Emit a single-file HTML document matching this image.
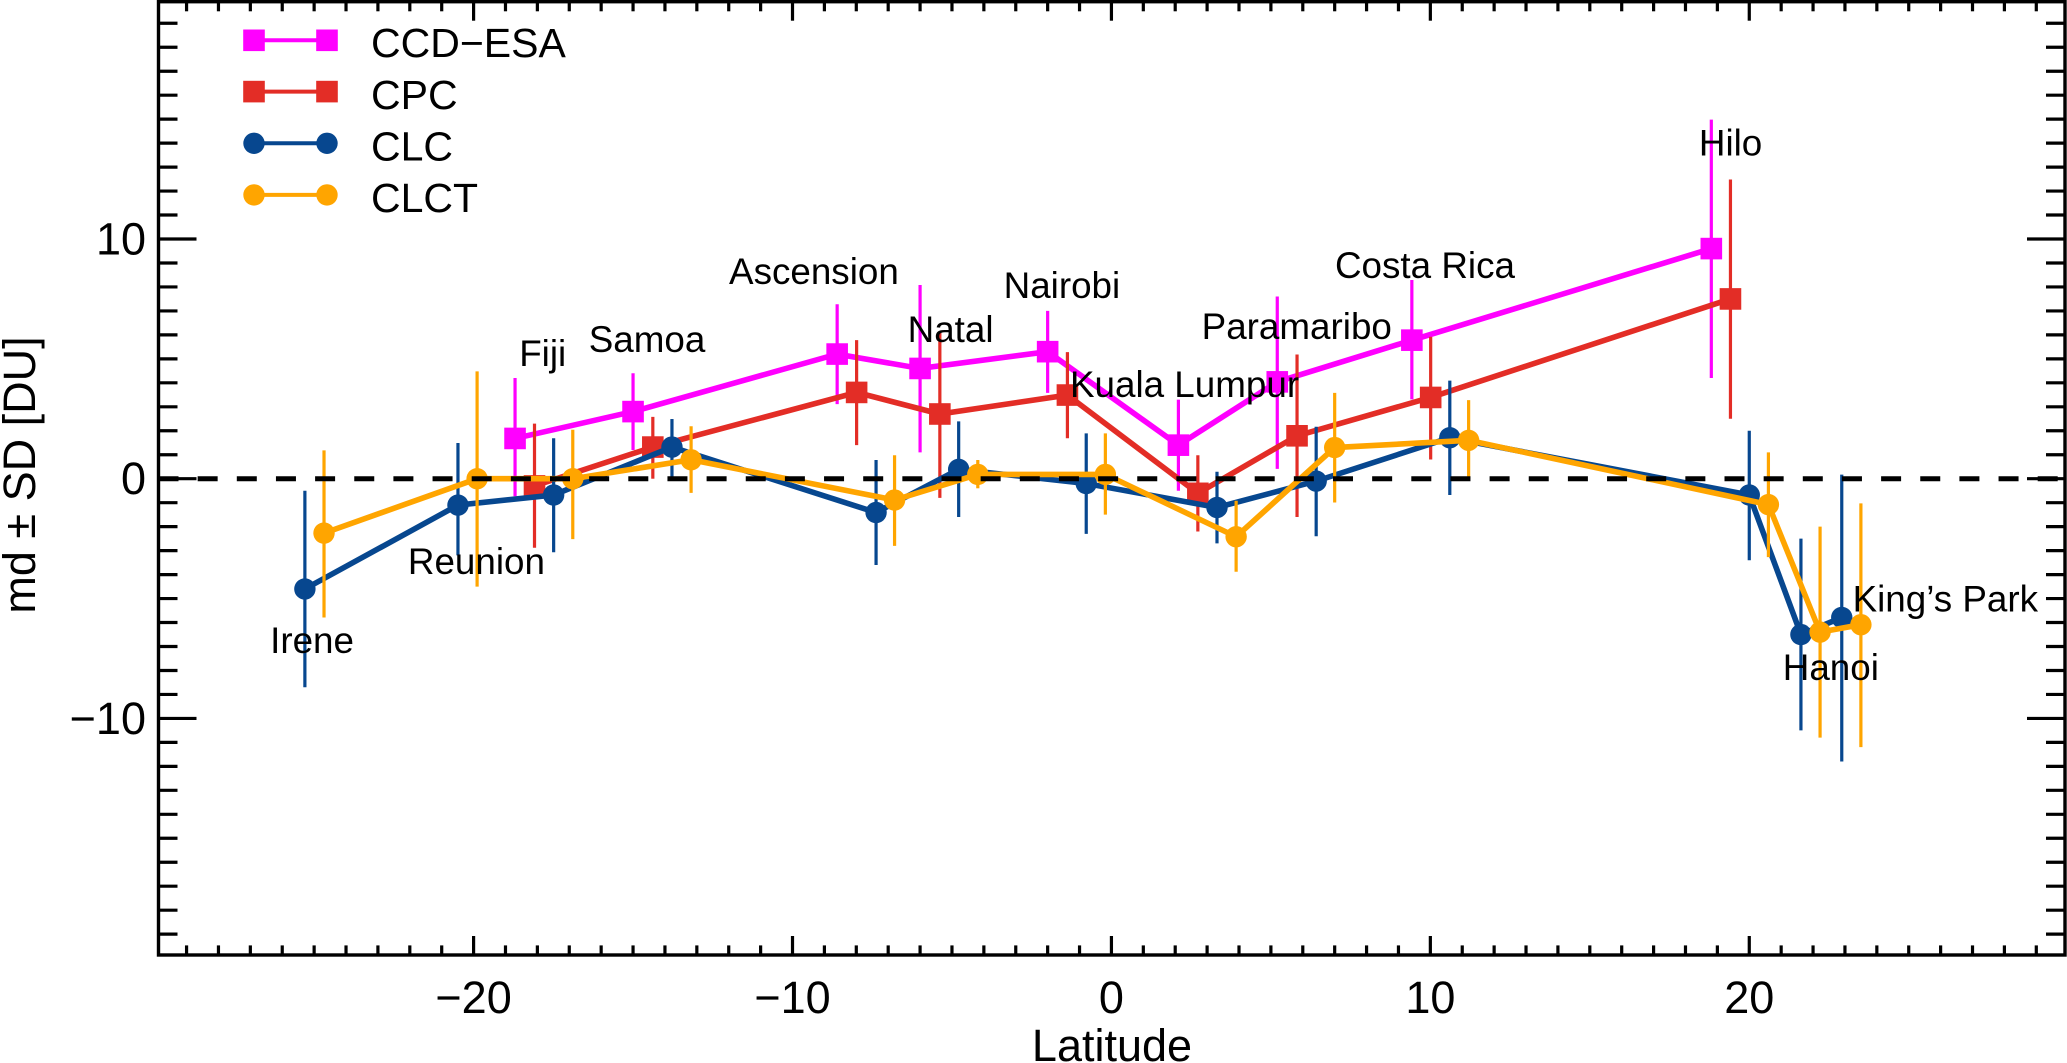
<!DOCTYPE html>
<html lang="en">
<head>
<meta charset="utf-8">
<title>md ± SD by latitude</title>
<style>
  html, body { margin: 0; padding: 0; background: #ffffff; }
  #chart { display: block; position: absolute; left: 0; top: 0; font-family: "Liberation Sans", Arial, sans-serif; }
</style>
</head>
<body>
<svg id="chart" width="2067" height="1063" viewBox="0 0 2067 1063" xmlns="http://www.w3.org/2000/svg">
  <rect x="0" y="0" width="2067" height="1063" fill="#ffffff"></rect>
  <g id="ticks"></g>
  <g id="tick-labels"></g>
  <g id="series"></g>
  <g id="zero"></g>
  <rect id="frame" fill="none" stroke="#000000" stroke-width="3.4"></rect>
  <g id="site-labels"></g>
  <text transform="translate(35 475) rotate(-90)" text-anchor="middle" font-size="45" fill="#000000">md ± SD [DU]</text>
  <text x="1112" y="1061" text-anchor="middle" font-size="45" fill="#000000">Latitude</text>

  <g>
    <g>
      <line x1="254" y1="40.3" x2="327" y2="40.3" stroke="#ff00ff" stroke-width="4"></line>
      <rect x="243.2" y="29.5" width="21.6" height="21.6" fill="#ff00ff"></rect>
      <rect x="316.2" y="29.5" width="21.6" height="21.6" fill="#ff00ff"></rect>
      <text x="371" y="56.8" font-size="41" fill="#000000">CCD−ESA</text>
    </g>
    <g>
      <line x1="254" y1="91.6" x2="327" y2="91.6" stroke="#e32d26" stroke-width="4"></line>
      <rect x="243.2" y="80.8" width="21.6" height="21.6" fill="#e32d26"></rect>
      <rect x="316.2" y="80.8" width="21.6" height="21.6" fill="#e32d26"></rect>
      <text x="371" y="108.8" font-size="41" fill="#000000">CPC</text>
    </g>
    <g>
      <line x1="254" y1="143.3" x2="327" y2="143.3" stroke="#07478f" stroke-width="4"></line>
      <circle cx="254" cy="143.3" r="10.7" fill="#07478f"></circle>
      <circle cx="327" cy="143.3" r="10.7" fill="#07478f"></circle>
      <text x="371" y="160.5" font-size="41" fill="#000000">CLC</text>
    </g>
    <g>
      <line x1="254" y1="194.9" x2="327" y2="194.9" stroke="#ffa500" stroke-width="4"></line>
      <circle cx="254" cy="194.9" r="10.7" fill="#ffa500"></circle>
      <circle cx="327" cy="194.9" r="10.7" fill="#ffa500"></circle>
      <text x="371" y="211.8" font-size="41" fill="#000000">CLCT</text>
    </g>
  </g>
</svg>

<script>
// ---- chart data ----
const ccdLat   = [-18.7, -15.0, -8.6, -6.0, -2.0, 2.1, 5.2, 9.42, 18.81];
const ccdMean  = [1.68, 2.8, 5.2, 4.6, 5.3, 1.4, 4.04, 5.78, 9.6];
const ccdUpper = [4.2, 4.4, 7.28, 8.08, 7.0, 3.3, 7.6, 8.29, 14.98];
const ccdLower = [-0.73, 1.2, 3.11, 1.1, 3.58, -0.5, 0.41, 3.31, 4.2];

const cpcLat   = [-18.09, -14.38, -7.99, -5.38, -1.38, 2.71, 5.82, 10.01, 19.41];
const cpcMean  = [-0.3, 1.32, 3.6, 2.7, 3.49, -0.61, 1.79, 3.39, 7.5];
const cpcUpper = [2.3, 2.58, 5.78, 6.13, 5.28, 0.98, 5.18, 5.92, 12.48];
const cpcLower = [-2.88, 0.0, 1.4, -0.8, 1.69, -2.2, -1.6, 0.8, 2.5];

const clcLat   = [-25.29, -20.49, -17.49, -13.78, -7.38, -4.79, -0.79, 3.31, 6.42, 10.61, 20.0, 21.62, 22.9];
const clcMean  = [-4.6, -1.1, -0.68, 1.32, -1.41, 0.39, -0.2, -1.2, -0.1, 1.71, -0.68, -6.5, -5.79];
const clcUpper = [-0.5, 1.49, 1.69, 2.49, 0.78, 2.39, 1.89, 0.29, 2.17, 4.09, 2.0, -2.5, 0.17];
const clcLower = [-8.7, -3.2, -3.07, 0.0, -3.6, -1.6, -2.3, -2.7, -2.4, -0.68, -3.4, -10.5, -11.8];

const clctLat   = [-24.69, -19.89, -16.89, -13.18, -6.8, -4.19, -0.19, 3.91, 7.0, 11.2, 20.6, 22.22, 23.5];
const clctMean  = [-2.27, 0.0, 0.0, 0.79, -0.89, 0.18, 0.18, -2.42, 1.3, 1.6, -1.08, -6.4, -6.09];
const clctUpper = [1.18, 4.48, 2.04, 2.19, 0.98, 0.78, 1.89, -0.92, 3.58, 3.28, 1.1, -2.0, -1.03];
const clctLower = [-5.79, -4.5, -2.52, -0.59, -2.8, -0.4, -1.5, -3.88, -0.99, 0.0, -3.27, -10.8, -11.2];

const siteNames = ["Irene", "Reunion", "Fiji", "Samoa", "Ascension", "Natal", "Nairobi", "Kuala Lumpur", "Paramaribo", "Costa Rica", "Hilo", "Hanoi", "King’s Park"];
const siteLabelLat = [-26.38, -22.06, -18.57, -16.39, -11.99, -6.39, -3.38, -1.3, 2.83, 7.01, 18.42, 21.05, 23.24];
const siteLabelVal = [-7.28, -3.98, 4.7, 5.28, 8.12, 5.7, 7.53, 3.4, 5.82, 8.37, 13.48, -8.39, -5.55];

const xMajorTicks = [-20, -10, 0, 10, 20];
const yMajorTicks = [-10, 0, 10];
const xDomain = [-29.88, 29.9];
const yDomain = [-19.87, 19.9];

// ---- plot geometry and axis functions ----
const plotLeft = 158.5, plotRight = 2065, plotTop = 1.7, plotBottom = 955;
function xScale(v) { return plotLeft + (v - xDomain[0]) / (xDomain[1] - xDomain[0]) * (plotRight - plotLeft); }
function yScale(v) { return plotBottom - (v - yDomain[0]) / (yDomain[1] - yDomain[0]) * (plotBottom - plotTop); }
function fmt(v) { return String(v).replace('-', '\u2212'); }

const NS = 'http://www.w3.org/2000/svg';
function make(tag, props, parent) {
  const el = document.createElementNS(NS, tag);
  for (const k in props) el.setAttribute(k, props[k]);
  parent.appendChild(el);
  return el;
}

// frame
const frame = document.getElementById('frame');
frame.setAttribute('x', plotLeft);
frame.setAttribute('y', plotTop);
frame.setAttribute('width', plotRight - plotLeft);
frame.setAttribute('height', plotBottom - plotTop);

// ticks
const tickGroup = document.getElementById('ticks');
const labelGroup = document.getElementById('tick-labels');
for (let v = Math.ceil(xDomain[0]); v <= Math.floor(xDomain[1]); v++) {
  const major = xMajorTicks.includes(v);
  const len = major ? 19 : 9.6;
  const x = xScale(v);
  const bottomTick = make('line', { x1: x, x2: x, y1: plotBottom, y2: plotBottom - len, stroke: '#000', 'stroke-width': 3.2 }, tickGroup);
  
  
  const topTick = make('line', { x1: x, x2: x, y1: plotTop, y2: plotTop + len, stroke: '#000', 'stroke-width': 3.2 }, tickGroup);
  
  
}
for (let v = Math.ceil(yDomain[0]); v <= Math.floor(yDomain[1]); v++) {
  const major = yMajorTicks.includes(v);
  const len = major ? 38 : 19;
  const y = yScale(v);
  const leftTick = make('line', { x1: plotLeft, x2: plotLeft + len, y1: y, y2: y, stroke: '#000', 'stroke-width': 3.2 }, tickGroup);
  
  
  const rightTick = make('line', { x1: plotRight, x2: plotRight - len, y1: y, y2: y, stroke: '#000', 'stroke-width': 3.2 }, tickGroup);
  
  
}
xMajorTicks.forEach(function (v) {
  const t = make('text', { x: xScale(v), y: 1013, 'text-anchor': 'middle', 'font-size': 45, fill: '#000' }, labelGroup);
  t.textContent = fmt(v);
  
  
});
yMajorTicks.forEach(function (v) {
  const t = make('text', { x: 146, y: yScale(v) + 15.5, 'text-anchor': 'end', 'font-size': 45, fill: '#000' }, labelGroup);
  t.textContent = fmt(v);
  
  
});

// series
const seriesGroup = document.getElementById('series');
function drawSeries(key, color, shape, lat, mean, upper, lower) {
  const g = make('g', {}, seriesGroup);
  
  
  lat.forEach(function (v, i) {
    const bar = make('line', { x1: xScale(v), x2: xScale(v), y1: yScale(upper[i]), y2: yScale(lower[i]), stroke: color, 'stroke-width': 3.2 }, g);
    
    
  });
  const pts = lat.map(function (v, i) { return xScale(v).toFixed(2) + ',' + yScale(mean[i]).toFixed(2); }).join(' ');
  const line = make('polyline', { points: pts, fill: 'none', stroke: color, 'stroke-width': 5.6, 'stroke-linejoin': 'miter' }, g);
  
  
  lat.forEach(function (v, i) {
    const cx = xScale(v), cy = yScale(mean[i]);
    let mark;
    if (shape === 'square') {
      mark = make('rect', { x: cx - 10.8, y: cy - 10.8, width: 21.6, height: 21.6, fill: color }, g);
    } else {
      mark = make('circle', { cx: cx, cy: cy, r: 10.7, fill: color }, g);
    }
    
    
  });
}
drawSeries('ccd-esa', '#ff00ff', 'square', ccdLat, ccdMean, ccdUpper, ccdLower);
drawSeries('cpc', '#e32d26', 'square', cpcLat, cpcMean, cpcUpper, cpcLower);
drawSeries('clc', '#07478f', 'circle', clcLat, clcMean, clcUpper, clcLower);
drawSeries('clct', '#ffa500', 'circle', clctLat, clctMean, clctUpper, clctLower);

// zero reference
const zeroLine = make('line', { x1: plotLeft, x2: plotRight, y1: yScale(0), y2: yScale(0), stroke: '#000', 'stroke-width': 5, 'stroke-dasharray': '20 19.15' }, document.getElementById('zero'));



// site labels
const siteGroup = document.getElementById('site-labels');
siteNames.forEach(function (name, i) {
  const t = make('text', { x: xScale(siteLabelLat[i]), y: yScale(siteLabelVal[i]), 'font-size': 36.8, fill: '#000' }, siteGroup);
  t.textContent = name;
  
  
});
</script>
</body>
</html>
